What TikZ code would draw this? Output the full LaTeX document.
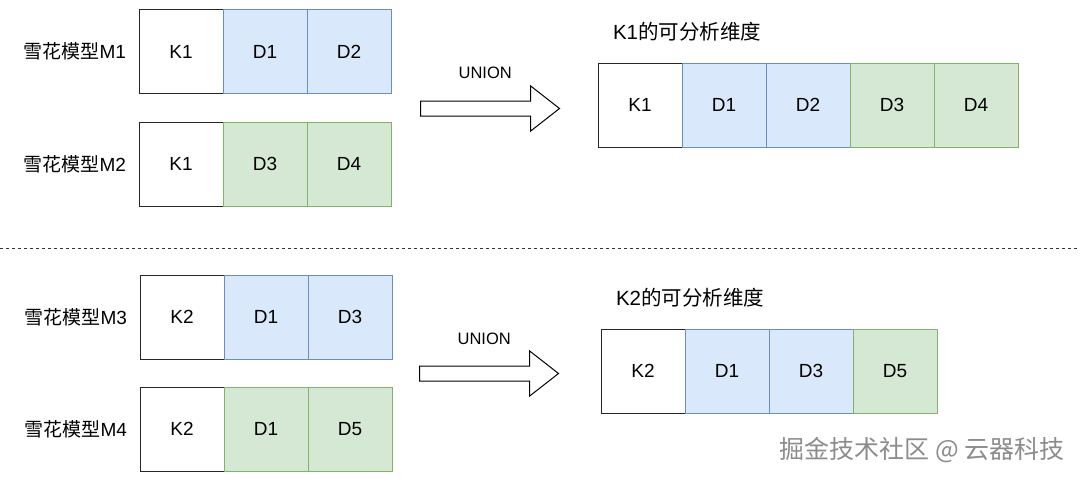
\documentclass[tikz,border=0pt]{standalone}
\usepackage{fontspec}
\setmainfont{Liberation Sans}
\newfontfamily\cjk{Noto Sans CJK SC}
\usetikzlibrary{calc}
\usetikzlibrary{shapes.arrows}

\definecolor{blueFill}{HTML}{DAE8FC}
\definecolor{blueLine}{HTML}{6C8EBF}
\definecolor{greenFill}{HTML}{D5E8D4}
\definecolor{greenLine}{HTML}{82B366}

\tikzset{
  cell/.style={draw, line width=1pt, minimum width=84pt, minimum height=84pt, inner sep=0pt,
    font=\fontsize{19}{22}\selectfont},
  keycell/.style={cell, fill=white, draw=black!85},
  bluecell/.style={cell, fill=blueFill, draw=blueLine},
  greencell/.style={cell, fill=greenFill, draw=greenLine},
  modellabel/.style={anchor=east, xshift=-9pt, font=\fontsize{19}{22}\selectfont},
  grouptitle/.style={anchor=west, xshift=12pt, yshift=31pt, font=\fontsize{20.5}{24}\selectfont},
  unionarrow/.style={single arrow, draw, line width=1pt, fill=white, inner xsep=0pt, inner ysep=7pt,
    anchor=tail, minimum height=139pt, single arrow head extend=15pt, single arrow tip angle=76},
  unionlabel/.style={font=\fontsize{16.5}{19}\selectfont},
}

\begin{document}
\begin{tikzpicture}[x=1pt, y=-1pt, node distance=84pt]
\useasboundingbox (0,0) rectangle (1080,480);

% K1 -- snowflake models M1 and M2
\node[name=m1_k, keycell] at (181,51.5) {K1};
\node[name=m1_d1, bluecell, right of=m1_k] {D1};
\node[name=m1_d2, bluecell, right of=m1_d1] {D2};
\node[name=m1_label, modellabel] at (m1_k.west) {{\cjk 雪花模型}M1};

\node[name=m2_k, keycell] at (181,164) {K1};
\node[name=m2_d3, greencell, right of=m2_k] {D3};
\node[name=m2_d4, greencell, right of=m2_d3] {D4};
\node[name=m2_label, modellabel] at (m2_k.west) {{\cjk 雪花模型}M2};

\node[name=union_1, unionarrow] at (420,108.5) {};
\node[name=union_1_label, unionlabel, above of=union_1, node distance=36pt] {UNION};

\node[name=k1_k, keycell] at (640,105) {K1};
\node[name=k1_d1, bluecell, right of=k1_k] {D1};
\node[name=k1_d2, bluecell, right of=k1_d1] {D2};
\node[name=k1_d3, greencell, right of=k1_d2] {D3};
\node[name=k1_d4, greencell, right of=k1_d3] {D4};
\node[name=k1_title, grouptitle] at (k1_k.north west) {K1{\cjk 的可分析维度}};

\draw[dash pattern=on 3pt off 3pt, line width=1pt, black!80] (0,248) -- (1080,248);

% K2 -- snowflake models M3 and M4
\node[name=m3_k, keycell] at (182,317) {K2};
\node[name=m3_d1, bluecell, right of=m3_k] {D1};
\node[name=m3_d3, bluecell, right of=m3_d1] {D3};
\node[name=m3_label, modellabel] at (m3_k.west) {{\cjk 雪花模型}M3};

\node[name=m4_k, keycell] at (182,429) {K2};
\node[name=m4_d1, greencell, right of=m4_k] {D1};
\node[name=m4_d5, greencell, right of=m4_d1] {D5};
\node[name=m4_label, modellabel] at (m4_k.west) {{\cjk 雪花模型}M4};

\node[name=union_2, unionarrow] at (419,373.5) {};
\node[name=union_2_label, unionlabel, above of=union_2, node distance=35pt] {UNION};

\node[name=k2_k, keycell] at (643,371) {K2};
\node[name=k2_d1, bluecell, right of=k2_k] {D1};
\node[name=k2_d3, bluecell, right of=k2_d1] {D3};
\node[name=k2_d5, greencell, right of=k2_d3] {D5};
\node[name=k2_title, grouptitle] at (k2_k.north west) {K2{\cjk 的可分析维度}};

\node[name=watermark, anchor=east, text=black!45, font=\cjk\fontsize{25}{29}\selectfont]
  at (1068,450) {掘金技术社区 @ 云器科技};

\end{tikzpicture}
\end{document}
